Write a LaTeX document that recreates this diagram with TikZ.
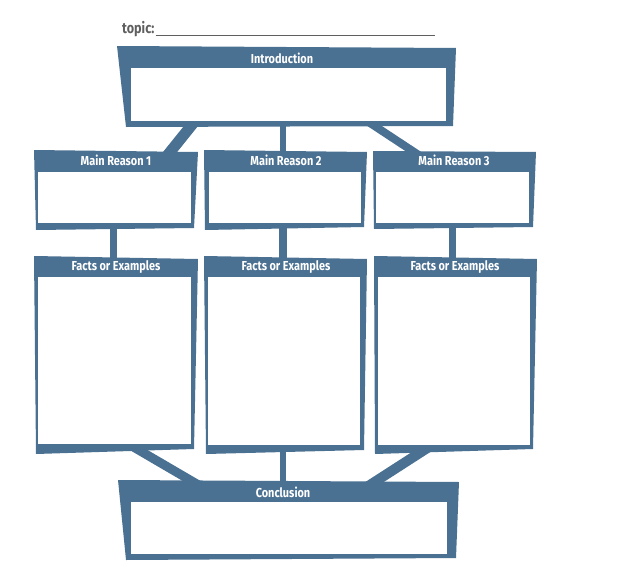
\documentclass[tikz,border=0pt]{standalone}
\usepackage{fontspec}
\newfontfamily\titlefont[FakeStretch=0.84]{Fira Sans}
\usetikzlibrary{backgrounds}
\definecolor{boxblue}{RGB}{74,112,146}
\definecolor{topicgray}{RGB}{95,95,95}
\begin{document}
\begin{tikzpicture}[x=1pt,y=-1pt,
    box/.style={fill=boxblue},
    inbox/.style={fill=white,inner sep=0pt,outer sep=0pt},
    title/.style={text=white,font=\titlefont\bfseries\fontsize{13}{15}\selectfont},
    link/.style={draw=boxblue}]
    \useasboundingbox (0,0) rectangle (619,570);
    % topic line
    \node[text=topicgray,font=\titlefont\bfseries\fontsize{15}{17}\selectfont,anchor=base west,inner sep=0pt] (topic) at (122,33) {topic:};
    \draw[topicgray,line width=0.9pt] (topic.base east) ++(1,2) coordinate (t0) -- (435,35) coordinate (t1);
    % introduction
    \fill[box] (117,46) -- (456,48) -- (453,126) -- (126,127) -- cycle;
    \node[title] (intro) at (282,58) {Introduction};
    \node[inbox,minimum width=315pt,minimum height=53pt] (introin) at (288.5,94.5) {};
    % main reasons
    \fill[box] (34,150) -- (198,152) -- (194,228) -- (36,230) -- cycle;
    \fill[box] (204,150) -- (367,152) -- (364,227) -- (205,230) -- cycle;
    \fill[box] (373,151) -- (536,152) -- (533,227) -- (374,229) -- cycle;
    \node[title] (reason1) at (116,160) {Main Reason 1};
    \node[title] (reason2) at (286,160) {Main Reason 2};
    \node[title] (reason3) at (454,160) {Main Reason 3};
    \node[inbox,minimum width=153pt,minimum height=51pt] (reason1in) at (114.5,197.5) {};
    \node[inbox,minimum width=152pt,minimum height=51pt] (reason2in) at (285,197.5) {};
    \node[inbox,minimum width=153pt,minimum height=51pt] (reason3in) at (452.5,197.5) {};
    % facts or examples
    \fill[box] (34,256) -- (198,259) -- (194,449) -- (36,454) -- cycle;
    \fill[box] (204,256) -- (367,259) -- (364,450) -- (206,454) -- cycle;
    \fill[box] (374,256) -- (537,259) -- (533,449) -- (375,454) -- cycle;
    \node[title] (facts1) at (116,267) {Facts or Examples};
    \node[title] (facts2) at (286,267) {Facts or Examples};
    \node[title] (facts3) at (455,267) {Facts or Examples};
    \node[inbox,minimum width=153pt,minimum height=167pt] (facts1in) at (114.5,360.5) {};
    \node[inbox,minimum width=152pt,minimum height=168pt] (facts2in) at (284,361) {};
    \node[inbox,minimum width=152pt,minimum height=168pt] (facts3in) at (454,361) {};
    % conclusion
    \fill[box] (118,480) -- (459,482) -- (456,558) -- (126,560) -- cycle;
    \node[title] (concl) at (283,492) {Conclusion};
    \node[inbox,minimum width=316pt,minimum height=52pt] (conclin) at (289,528) {};
    % connectors behind the boxes
    \begin{scope}[on background layer]
    \draw[link,line width=11pt] ([xshift=-93.5pt]introin.south) -- ([xshift=39.5pt]reason1in.north);
    \draw[link,line width=6pt] ([xshift=-5.5pt]introin.south) -- ([xshift=-2pt]reason2in.north);
    \draw[link,line width=8pt] ([xshift=78.5pt]introin.south) -- ([xshift=-8pt]reason3in.north);
    \draw[link,line width=7pt] ([xshift=-1pt]reason1in.south) -- ([xshift=-1pt]facts1in.north);
    \draw[link,line width=8pt] ([xshift=-2pt]reason2in.south) -- ([xshift=-1pt]facts2in.north);
    \draw[link,line width=7pt] (reason3in.south) -- ([xshift=-1.5pt]facts3in.north);
    \draw[link,line width=9pt] ([xshift=13.8pt]facts1in.south) -- ([xshift=-61.3pt]conclin.north);
    \draw[link,line width=6pt] ([xshift=-1pt]facts2in.south) -- ([xshift=-6pt]conclin.north);
    \draw[link,line width=10pt] ([xshift=-22pt]facts3in.south) -- ([xshift=54.5pt]conclin.north);
    \end{scope}
\end{tikzpicture}
\end{document}
